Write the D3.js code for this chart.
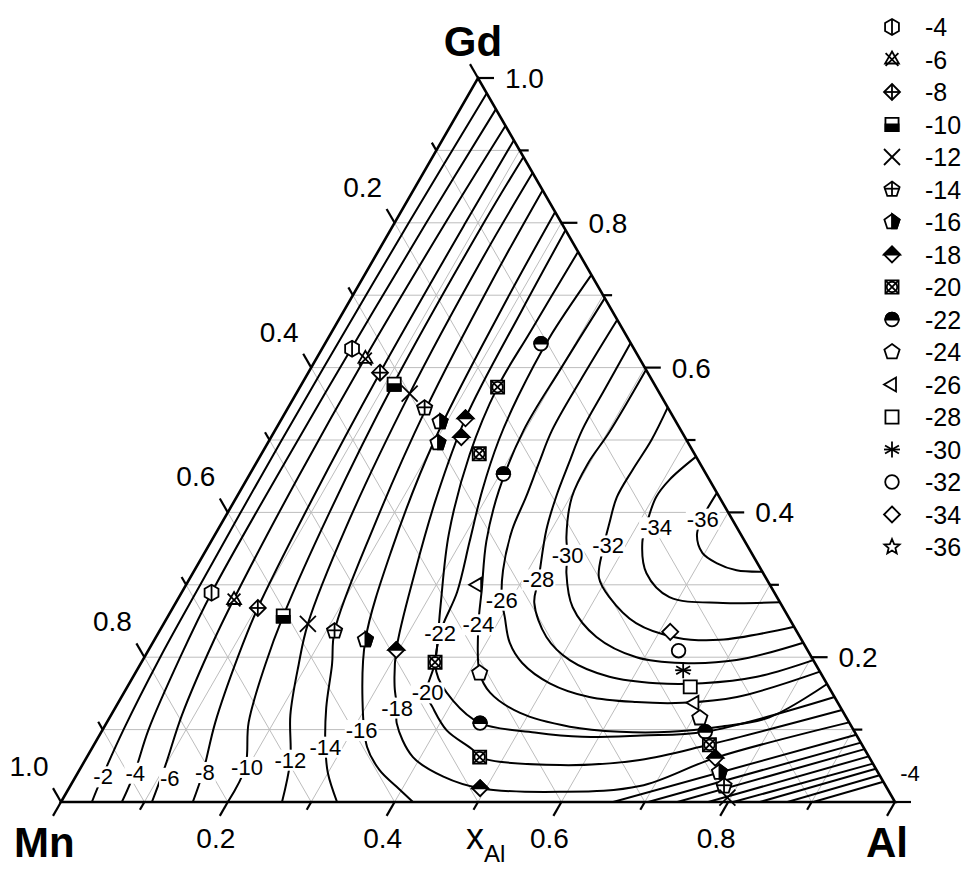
<!DOCTYPE html>
<html>
<head>
<meta charset="utf-8">
<script src="https://cdn.jsdelivr.net/npm/d3@7"></script>
<style>
  body { margin: 0; background: #fff; }
  svg { font-family: Arial, "Liberation Sans", sans-serif; }
</style>
</head>
<body>
<svg id="chart" width="968" height="872"></svg>
<script>
// ternary points are [xAl, xGd]  (xMn = 1 - xAl - xGd)
const legendLevels = [-4, -6, -8, -10, -12, -14, -16, -18, -20, -22, -24, -26, -28, -30, -32, -34, -36]
const gridValues = [0.1, 0.2, 0.3, 0.4, 0.5, 0.6, 0.7, 0.8, 0.9]
const tickValues = [0, 0.1, 0.2, 0.3, 0.4, 0.5, 0.6, 0.7, 0.8, 0.9, 1.0]
const alLabels = [0.2, 0.4, 0.6, 0.8]
const mnLabels = [0.2, 0.4, 0.6, 0.8, 1.0]
const gdLabels = [0.2, 0.4, 0.6, 0.8, 1.0]

// measured compositions, [level, xAl, xGd]
const seriesA = [[-4, .036, .626], [-6, .059, .612], [-8, .086, .593], [-10, .111, .577], [-12, .136, .564],
  [-14, .164, .544], [-16, .192, .525], [-18, .220, .530], [-20, .237, .573], [-22, .259, .633]]
const seriesB = [[-16, .204, .496], [-18, .228, .504], [-20, .261, .481], [-22, .304, .453]]
const seriesC = [[-4, .036, .289], [-6, .068, .279], [-8, .102, .268], [-10, .138, .257], [-12, .173, .246],
  [-14, .210, .236], [-16, .253, .224], [-18, .297, .210], [-20, .352, .193]]
const seriesD = [[-18, .493, .019], [-20, .471, .062], [-22, .448, .109], [-24, .413, .178], [-26, .349, .300]]
const seriesE = [[-34, .613, .235], [-32, .636, .209], [-30, .655, .182], [-28, .675, .159], [-26, .691, .137],
  [-24, .708, .116], [-22, .724, .097], [-20, .738, .079], [-18, .754, .061], [-16, .769, .041],
  [-14, .784, .022], [-12, .796, .006]]

// iso-lines, Mn side
const contourMn = [
  [-2, [[.037, 0], [.032, .035], [.025, .1], [.019, .2], [.017, .3], [.015, .45], [.015, .6], [.017, .8], [.021, .979]]],
  [-4, [[.073, 0], [.068, .04], [.055, .1], [.043, .2], [.036, .29], [.034, .45], [.035, .626], [.038, .8], [.043, .957]]],
  [-6, [[.109, 0], [.10, .05], [.085, .12], [.072, .22], [.066, .3], [.06, .45], [.058, .612], [.061, .8], [.066, .934]]],
  [-8, [[.158, 0], [.15, .04], [.13, .11], [.112, .2], [.102, .268], [.092, .42], [.086, .593], [.085, .8], [.086, .914]]],
  [-10, [[.2, 0], [.197, .048], [.17, .11], [.15, .19], [.138, .257], [.122, .4], [.11, .577], [.107, .8], [.109, .891]]],
  [-12, [[.265, 0], [.246, .058], [.215, .12], [.19, .19], [.173, .246], [.152, .38], [.136, .564], [.13, .75], [.131, .869]]],
  [-14, [[.331, 0], [.30, .04], [.279, .076], [.253, .13], [.23, .19], [.21, .236], [.185, .38], [.166, .544], [.157, .72], [.155, .845]]],
  [-16, [[.422, 0], [.392, .021], [.36, .044], [.329, .076], [.291, .141], [.253, .224], [.222, .35], [.198, .5], [.188, .68], [.185, .815]]]
]
// iso-lines wrapping the minimum
const contourU = [
  [-18, [[.21, .79], [.213, .68], [.22, .53], [.24, .42], [.265, .32], [.297, .21], [.32, .16], [.338, .13], [.348, .109], [.391, .062], [.441, .035], [.493, .019], [.591, .014], [.683, .022], [.754, .061], [.89, .11]]],
  [-20, [[.24, .76], [.238, .65], [.237, .573], [.25, .48], [.28, .37], [.32, .27], [.352, .193], [.363, .15], [.38, .131], [.413, .099], [.458, .072], [.471, .062], [.573, .051], [.665, .058], [.737, .079], [.873, .127]]],
  [-22, [[.272, .728], [.265, .64], [.268, .56], [.275, .5], [.29, .43], [.31, .36], [.33, .29], [.338, .233], [.36, .18], [.40, .14], [.448, .109], [.52, .096], [.58, .09], [.65, .092], [.724, .097], [.855, .145]]],
  [-24, [[.304, .696], [.30, .6], [.298, .514], [.31, .43], [.33, .36], [.358, .293], [.378, .245], [.413, .178], [.439, .151], [.489, .123], [.558, .104], [.622, .097], [.682, .097], [.738, .104], [.791, .117], [.837, .163]]],
  [-26, [[.334, .666], [.332, .6], [.332, .514], [.339, .468], [.347, .421], [.353, .376], [.37, .32], [.389, .279], [.404, .256], [.428, .22], [.457, .192], [.504, .164], [.561, .145], [.621, .138], [.677, .137], [.738, .145], [.82, .18]]],
  [-28, [[.366, .634], [.367, .57], [.368, .514], [.375, .468], [.383, .421], [.394, .376], [.419, .307], [.43, .275], [.468, .228], [.512, .196], [.571, .173], [.632, .164], [.687, .164], [.748, .173], [.804, .196]]],
  [-30, [[.403, .597], [.402, .51], [.398, .468], [.402, .421], [.423, .366], [.437, .341], [.448, .316], [.479, .269], [.528, .228], [.59, .2], [.649, .192], [.712, .196], [.78, .22]]],
  [-32, [[.455, .545], [.458, .5], [.456, .459], [.456, .421], [.465, .385], [.475, .35], [.49, .31], [.516, .283], [.566, .247], [.625, .227], [.678, .224], [.758, .242]]],
  [-34, [[.523, .477], [.507, .445], [.503, .421], [.51, .385], [.518, .358], [.544, .316], [.588, .283], [.656, .275], [.724, .276]]],
  [-36, [[.573, .427], [.573, .391], [.578, .369], [.597, .344], [.621, .33], [.65, .32], [.682, .318]]]
]
// iso-lines, Al corner
const contourAl = [
  [-16, [[.662, 0], [.907, .093]]],
  [-14, [[.704, 0], [.918, .082]]],
  [-12, [[.739, 0], [.927, .073]]],
  [-10, [[.776, 0], [.937, .063]]],
  [-8, [[.806, 0], [.947, .053]]],
  [-6, [[.838, 0], [.954, .046]]],
  [-4, [[.871, 0], [.963, .037]]],
  [-2, [[.902, 0], [.972, .028]]]
]
// contour label positions [text, xAl, xGd]
const contourLabels = [["-2", .033, .035], ["-4", .069, .040], ["-6", .114, .033], ["-8", .152, .041],
  ["-10", .199, .048], ["-12", .246, .058], ["-14", .279, .076], ["-16", .311, .099], ["-18", .338, .130],
  ["-20", .364, .151], ["-22", .338, .233], ["-24", .378, .245], ["-26", .389, .279], ["-28", .419, .307],
  ["-30", .437, .341], ["-32", .479, .354], ["-34", .524, .379], ["-36", .574, .391], ["-4", .998, .040]]

const svg = d3.select("#chart")

const x = d3.scaleLinear().domain([0, 1]).range([61, 895])
const y = d3.scaleLinear().domain([0, 1]).range([802, 78])
const px = (a, g) => x(a + g / 2)
const py = (a, g) => y(g)

const line = d3.line()
  .x(d => px(d[0], d[1]))
  .y(d => py(d[0], d[1]))
  .curve(d3.curveCatmullRom.alpha(0.5))

const corners = [[0, 0], [1, 0], [0, 1]]
const triPath = d3.line().x(d => px(d[0], d[1])).y(d => py(d[0], d[1]))(corners) + "Z"

svg.append("clipPath").attr("id", "tri").append("path").attr("d", triPath)

// grid
const grid = svg.append("g").attr("stroke", "#bdbdbd").attr("stroke-width", 1)
gridValues.forEach(v => {
  grid.append("line").attr("x1", px(0, v)).attr("y1", py(0, v)).attr("x2", px(1 - v, v)).attr("y2", py(1 - v, v))
  grid.append("line").attr("x1", px(v, 0)).attr("y1", py(v, 0)).attr("x2", px(v, 1 - v)).attr("y2", py(v, 1 - v))
  grid.append("line").attr("x1", px(1 - v, 0)).attr("y1", py(1 - v, 0)).attr("x2", px(0, 1 - v)).attr("y2", py(0, 1 - v))
})

// contours
const cg = svg.append("g").attr("clip-path", "url(#tri)")
  .attr("fill", "none").attr("stroke", "#000").attr("stroke-width", 2)
cg.selectAll("path")
  .data([...contourMn, ...contourU, ...contourAl])
  .join("path")
  .attr("d", d => line(d[1]))

// contour labels with white boxes
const lg = svg.append("g").attr("font-size", 22)
contourLabels.forEach(([t, a, g]) => {
  const gg = lg.append("g")
  const tx = gg.append("text").attr("x", px(a, g)).attr("y", py(a, g)).attr("dy", "0.35em")
    .attr("text-anchor", "middle").text(t)
  const b = tx.node().getBBox()
  gg.insert("rect", "text").attr("x", b.x - 1).attr("y", b.y + 2).attr("width", b.width + 2)
    .attr("height", b.height - 4).attr("fill", "#fff")
})

// triangle frame
svg.append("path").attr("d", triPath)
  .attr("fill", "none").attr("stroke", "#000").attr("stroke-width", 2.6)

// ticks
const tk = svg.append("g").attr("stroke", "#000").attr("stroke-width", 2.2)
const isMajor = v => Math.round(v * 10) % 2 === 0
tickValues.forEach(v => {
  const len = isMajor(v) ? 16 : 9
  let x0 = px(v, 0), y0 = py(v, 0)
  tk.append("line").attr("x1", x0).attr("y1", y0).attr("x2", x0 - len * 0.5).attr("y2", y0 + len * 0.866)
  x0 = px(0, 1 - v); y0 = py(0, 1 - v)
  tk.append("line").attr("x1", x0).attr("y1", y0).attr("x2", x0 - len * 0.5).attr("y2", y0 - len * 0.866)
  x0 = px(1 - v, v); y0 = py(1 - v, v)
  tk.append("line").attr("x1", x0).attr("y1", y0).attr("x2", x0 + len).attr("y2", y0)
})

// tick labels
const tl = svg.append("g").attr("font-size", 28)
alLabels.forEach(v => {
  tl.append("text").attr("x", px(v, 0) - 12).attr("y", 848).attr("text-anchor", "middle").text(v.toFixed(1))
})
mnLabels.forEach(v => {
  tl.append("text").attr("x", px(0, 1 - v) - 32).attr("y", py(0, 1 - v) - 26).attr("text-anchor", "middle").text(v.toFixed(1))
})
gdLabels.forEach(v => {
  tl.append("text").attr("x", px(1 - v, v) + 27).attr("y", py(1 - v, v) + 10).text(v.toFixed(1))
})

// titles
svg.append("text").attr("x", 473).attr("y", 56).attr("text-anchor", "middle")
  .attr("font-size", 42).attr("font-weight", "bold").text("Gd")
svg.append("text").attr("x", 14).attr("y", 857).attr("font-size", 42).attr("font-weight", "bold").text("Mn")
svg.append("text").attr("x", 866).attr("y", 857).attr("font-size", 42).attr("font-weight", "bold").text("Al")
const xl = svg.append("text").attr("x", 466).attr("y", 849).attr("font-size", 36)
xl.append("tspan").text("x")
xl.append("tspan").attr("font-size", 24).attr("dy", 13).text("Al")

// marker shapes
const poly = pts => "M" + pts.map(p => p.join(",")).join("L") + "Z"
const ring = (n, r, rot) => d3.range(n).map(i => {
  const t = (rot + i * 360 / n) * Math.PI / 180
  return [r * Math.cos(t), r * Math.sin(t)]
})
function marker(g, lvl, r) {
  const S = (d, fill) => g.append("path").attr("d", d).attr("fill", fill || "#fff").attr("stroke", "#000").attr("stroke-width", 1.8)
  const L = (x1, y1, x2, y2) => g.append("line").attr("x1", x1).attr("y1", y1).attr("x2", x2).attr("y2", y2).attr("stroke", "#000").attr("stroke-width", 1.8)
  const sq = r * 0.82
  const pent = ring(5, r, -90)
  const circ = rr => `M${-rr},0A${rr},${rr} 0 1,0 ${rr},0A${rr},${rr} 0 1,0 ${-rr},0Z`
  switch (lvl) {
    case -4: S(poly(ring(6, r, -90))); L(0, -r, 0, r); break
    case -6: S(poly(ring(3, r, -90))); L(-r * .8, -r * .8, r * .8, r * .8); L(r * .8, -r * .8, -r * .8, r * .8); break
    case -8: S(poly(ring(4, r, -90))); L(0, -r, 0, r); L(-r, 0, r, 0); break
    case -10: S(poly([[-sq, -sq], [sq, -sq], [sq, sq], [-sq, sq]])); S(poly([[-sq, 0], [sq, 0], [sq, sq], [-sq, sq]]), "#000"); break
    case -12: L(-r, -r, r, r); L(r, -r, -r, r); break
    case -14: S(poly(pent)); L(0, -r, 0, r * .81); L(-r * .95, -r * .1, r * .95, -r * .1); break
    case -16: S(poly(pent)); S(poly([pent[0], pent[1], pent[2], [0, pent[2][1]]]), "#000"); break
    case -18: S(poly(ring(4, r, -90))); S(poly([[-r, 0], [0, -r], [r, 0]]), "#000"); break
    case -20: S(poly([[-sq, -sq], [sq, -sq], [sq, sq], [-sq, sq]])); S(circ(sq * .8)); L(-sq, -sq, sq, sq); L(sq, -sq, -sq, sq); break
    case -22: S(circ(r * .85)); S(`M${-r * .85},0A${r * .85},${r * .85} 0 0,1 ${r * .85},0Z`, "#000"); break
    case -24: S(poly(pent)); break
    case -26: S(poly(ring(3, r, 180))); break
    case -28: S(poly([[-sq, -sq], [sq, -sq], [sq, sq], [-sq, sq]])); break
    case -30: L(0, -r, 0, r); L(-r * .87, -r * .5, r * .87, r * .5); L(r * .87, -r * .5, -r * .87, r * .5); L(-r, 0, r, 0); break
    case -32: S(circ(r * .85)); break
    case -34: S(poly(ring(4, r, -90))); break
    case -36: {
      const st = d3.range(10).map(i => {
        const rr = i % 2 ? r * .45 : r
        const t = (-90 + i * 36) * Math.PI / 180
        return [rr * Math.cos(t), rr * Math.sin(t)]
      })
      S(poly(st)); break
    }
  }
}

// data markers
const mk = svg.append("g")
;[seriesA, seriesB, seriesC, seriesD, seriesE].forEach(s => {
  s.forEach(([lvl, a, g]) => {
    marker(mk.append("g").attr("transform", `translate(${px(a, g)},${py(a, g)})`), lvl, 8)
  })
})

// legend
const ly = d3.scaleLinear().domain([0, legendLevels.length - 1]).range([27, 547])
const leg = svg.append("g").attr("font-size", 25)
legendLevels.forEach((lvl, i) => {
  marker(leg.append("g").attr("transform", `translate(892,${ly(i)})`), lvl, 8)
  leg.append("text").attr("x", 925).attr("y", ly(i)).attr("dy", "0.36em").text(lvl)
})
</script>
</body>
</html>
